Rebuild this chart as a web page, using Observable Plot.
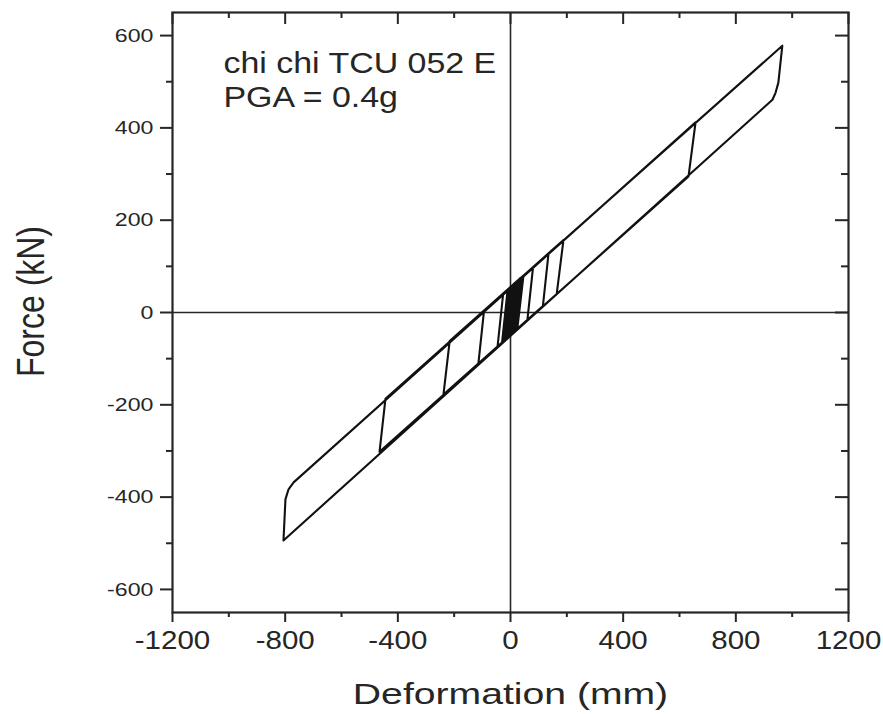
<!DOCTYPE html>
<html><head><meta charset="utf-8">
<script src="https://cdn.jsdelivr.net/npm/d3@7"></script>
<script src="https://cdn.jsdelivr.net/npm/@observablehq/plot@0.6"></script>
<style>body{margin:0;background:#fff;} svg{display:block}</style>
</head><body><div id="chart"></div>
<script>
// Hysteresis path vertices (deformation mm, force kN)
const disp  = [0, 8, 24, 2, -6, 16, 30, 8, -2, 20, 36, 14, -10, 12, 44, 22, 4, 26, 40, 18, -12, 10, 28, 6, 0, 22,
               46, 24, 8, 30, 38, 16, -8, 14, 33, 11, -4, 18, 42, 20, -14, 8, 26, 4,
               -16, 6, 45, 23, -18, 4, 39, 17, -20, 2, 32, 10, 2, 24, 43, 21, -7, 15, 37, 15, -16, 6, 35, 13,
               -22, -2, 30, 8, -30, -10, 42, 20,
               -46, -26, 80, 60, -114, -94, 135, 115, -238, -216, 188, 164, -465, -444,
               965, 951, 941, 930, -806, -799, -788, -770, 657, 632, 10];
const force = [0, 59, 68, -48, -52, 64, 71, -45, -50, 66, 75, -41, -54, 62, 79, -37, -47, 69, 77, -39, -56, 60, 70, -46, -49, 67,
               80, -36, -45, 71, 76, -40, -53, 63, 73, -43, -51, 65, 78, -38, -57, 59, 69, -47,
               -58, 58, 79, -36, -59, 57, 76, -40, -60, 56, 72, -44, -48, 68, 78, -38, -53, 63, 75, -41, -58, 58, 74, -42,
               -61, 54, 71, -45, -65, 50, 78, -38,
               -74, 41, 98, -16, -111, 4, 128, 14, -178, -62, 157, 40, -302, -187,
               578, 498, 476, 461, -494, -405, -383, -368, 412, 295, -44];

const xMajor = [-1200, -800, -400, 0, 400, 800, 1200];
const xMinor = [-1000, -600, -200, 200, 600, 1000];
const yMajor = [-600, -400, -200, 0, 200, 400, 600];
const yMinor = [-500, -300, -100, 100, 300, 500];
const xTitle = "Deformation (mm)";
const yTitle = "Force (kN)";
const noteLines = ["chi chi TCU 052 E", "PGA = 0.4g"];

const pts = disp.map((d, i) => ({d, f: force[i]}));
const W = 883, H = 714, mL = 172, mR = 35, mT = 12, mB = 102;
const FW = W - mL - mR, FH = H - mT - mB;
const ink = "#262626";
const font = "'Liberation Sans', Arial, Helvetica, sans-serif";
const fmt = d => String(d);

const plot = Plot.plot({
  width: W, height: H,
  marginLeft: mL, marginRight: mR, marginTop: mT, marginBottom: mB,
  style: {fontFamily: font, background: "#fff", color: ink},
  x: {domain: [-1200, 1200]},
  y: {domain: [-650, 650]},
  marks: [
    Plot.ruleY([0], {stroke: ink, strokeWidth: 1.6}),
    Plot.ruleX([0], {stroke: ink, strokeWidth: 1.6}),
    Plot.line(pts, {x: "d", y: "f", stroke: "#111", strokeWidth: 2.1, strokeLinejoin: "round"}),
    // bottom axis
    Plot.axisX({ticks: xMajor, anchor: "bottom", tickSize: 10, tickPadding: 9, fontSize: 25, tickFormat: fmt, label: null, strokeWidth: 2}),
    Plot.axisX({ticks: xMinor, anchor: "bottom", tickSize: 5, tickFormat: () => "", label: null, strokeWidth: 2}),
    // left axis
    Plot.axisY({ticks: yMajor, anchor: "left", tickSize: 12, tickPadding: 7, fontSize: 19, tickFormat: fmt, label: null, strokeWidth: 2}),
    Plot.axisY({ticks: yMinor, anchor: "left", tickSize: 6, tickFormat: () => "", label: null, strokeWidth: 2}),
    // top inward ticks
    Plot.tickX(xMajor, {x: d => d, insetBottom: FH - 12, stroke: ink, strokeWidth: 2}),
    Plot.tickX(xMinor, {x: d => d, insetBottom: FH - 6, stroke: ink, strokeWidth: 2}),
    // right inward ticks
    Plot.tickY(yMajor, {y: d => d, insetLeft: FW - 13, stroke: ink, strokeWidth: 2}),
    Plot.tickY(yMinor, {y: d => d, insetLeft: FW - 7, stroke: ink, strokeWidth: 2}),
    Plot.frame({stroke: ink, strokeWidth: 2.2}),
    Plot.text([xTitle], {frameAnchor: "bottom", dy: 82, fontSize: 29, lineAnchor: "middle", textAnchor: "middle", fill: ink}),
    Plot.text([yTitle], {frameAnchor: "left", dx: -141, dy: -11, rotate: -90, fontSize: 32, lineAnchor: "middle", textAnchor: "middle", fill: ink}),
    Plot.text([noteLines.join("\n")], {frameAnchor: "top-left", dx: 51, dy: 36, textAnchor: "start", lineAnchor: "top", fontSize: 29, lineHeight: 1.17, fill: ink})
  ]
});

function stretch(nodes, sx, sy) {
  nodes.forEach(t => {
    const tr = t.getAttribute("transform") || "";
    t.setAttribute("transform", tr + ` scale(${sx},${sy})`);
  });
}
stretch(plot.querySelectorAll('g[aria-label="x-axis tick label"] text'), 1.18, 1);
stretch(plot.querySelectorAll('g[aria-label="y-axis tick label"] text'), 1.22, 1);
const texts = Array.from(plot.querySelectorAll('g[aria-label="text"] text'));
stretch(texts.filter(t => t.textContent.startsWith("Deformation")), 1.35, 1);
stretch(texts.filter(t => t.textContent.startsWith("Force")), 1, 1.2);
stretch(texts.filter(t => t.textContent.startsWith("chi")), 1.17, 1);
document.getElementById("chart").append(plot);
</script>
</body></html>
